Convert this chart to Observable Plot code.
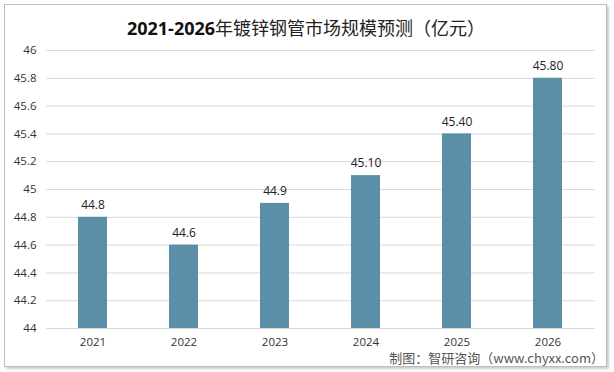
<!DOCTYPE html>
<html><head><meta charset="utf-8">
<script src="https://cdn.jsdelivr.net/npm/d3@7"></script>
<script src="https://cdn.jsdelivr.net/npm/@observablehq/plot@0.6"></script>
<style>
html,body{margin:0;padding:0;background:#fff;}
#wrap{position:relative;width:614px;height:372px;overflow:hidden;font-family:"Open Sans","Noto Sans CJK SC",sans-serif;}
#frame{position:absolute;left:4px;top:4px;width:601px;height:361px;border:1px solid #bdbdbd;box-shadow:2px 2px 2px #cfcfcf;}
#title{position:absolute;left:0;width:612px;top:15px;text-align:center;font-size:18px;line-height:24px;color:#111;}
#title b{font-weight:bold;}
#title span{font-family:"Noto Sans CJK SC",sans-serif;font-weight:400;color:#222;}
#source{position:absolute;right:10px;top:351px;font-size:13px;line-height:13px;color:#555;font-family:"Noto Sans CJK SC","Open Sans",sans-serif;}
#chart{position:absolute;left:0;top:0;}
</style></head>
<body><div id="wrap"><div id="frame"></div><div id="chart"></div>
<div id="title"><b>2021-2026</b><span>年镀锌钢管市场规模预测（亿元）</span></div>
<div id="source">制图：智研咨询（www.chyxx.com）</div></div>
<script>
const years = ["2021","2022","2023","2024","2025","2026"];
const values = [44.8, 44.6, 44.9, 45.1, 45.4, 45.8];
const labels = ["44.8","44.6","44.9","45.10","45.40","45.80"];
const yTicks = [44,44.2,44.4,44.6,44.8,45,45.2,45.4,45.6,45.8,46];
const data = years.map((y,i)=>({year:y, value:values[i], label:labels[i]}));
const chart = Plot.plot({
  width:614, height:372,
  marginTop:50, marginBottom:44, marginLeft:46, marginRight:19,
  style:{fontFamily:"'Open Sans',sans-serif", fontSize:"11.5px", color:"#333", background:"transparent"},
  x:{domain:years, paddingInner:0.68, paddingOuter:0.34, label:null, tickSize:0, tickPadding:9},
  y:{domain:[44,46], ticks:yTicks, label:null, tickSize:0, tickPadding:10, tickFormat:d=>String(+d.toFixed(1))},
  marks:[
    Plot.ruleY(yTicks,{stroke:"#d9d9d9"}),
    Plot.barY(data,{x:"year", y1:44, y2:"value", fill:"#5b8fa8"}),
    Plot.text(data,{x:"year", y:"value", text:"label", dy:-12, fontSize:12, fill:"#222"})
  ]
});
document.getElementById("chart").appendChild(chart);
</script></body></html>
